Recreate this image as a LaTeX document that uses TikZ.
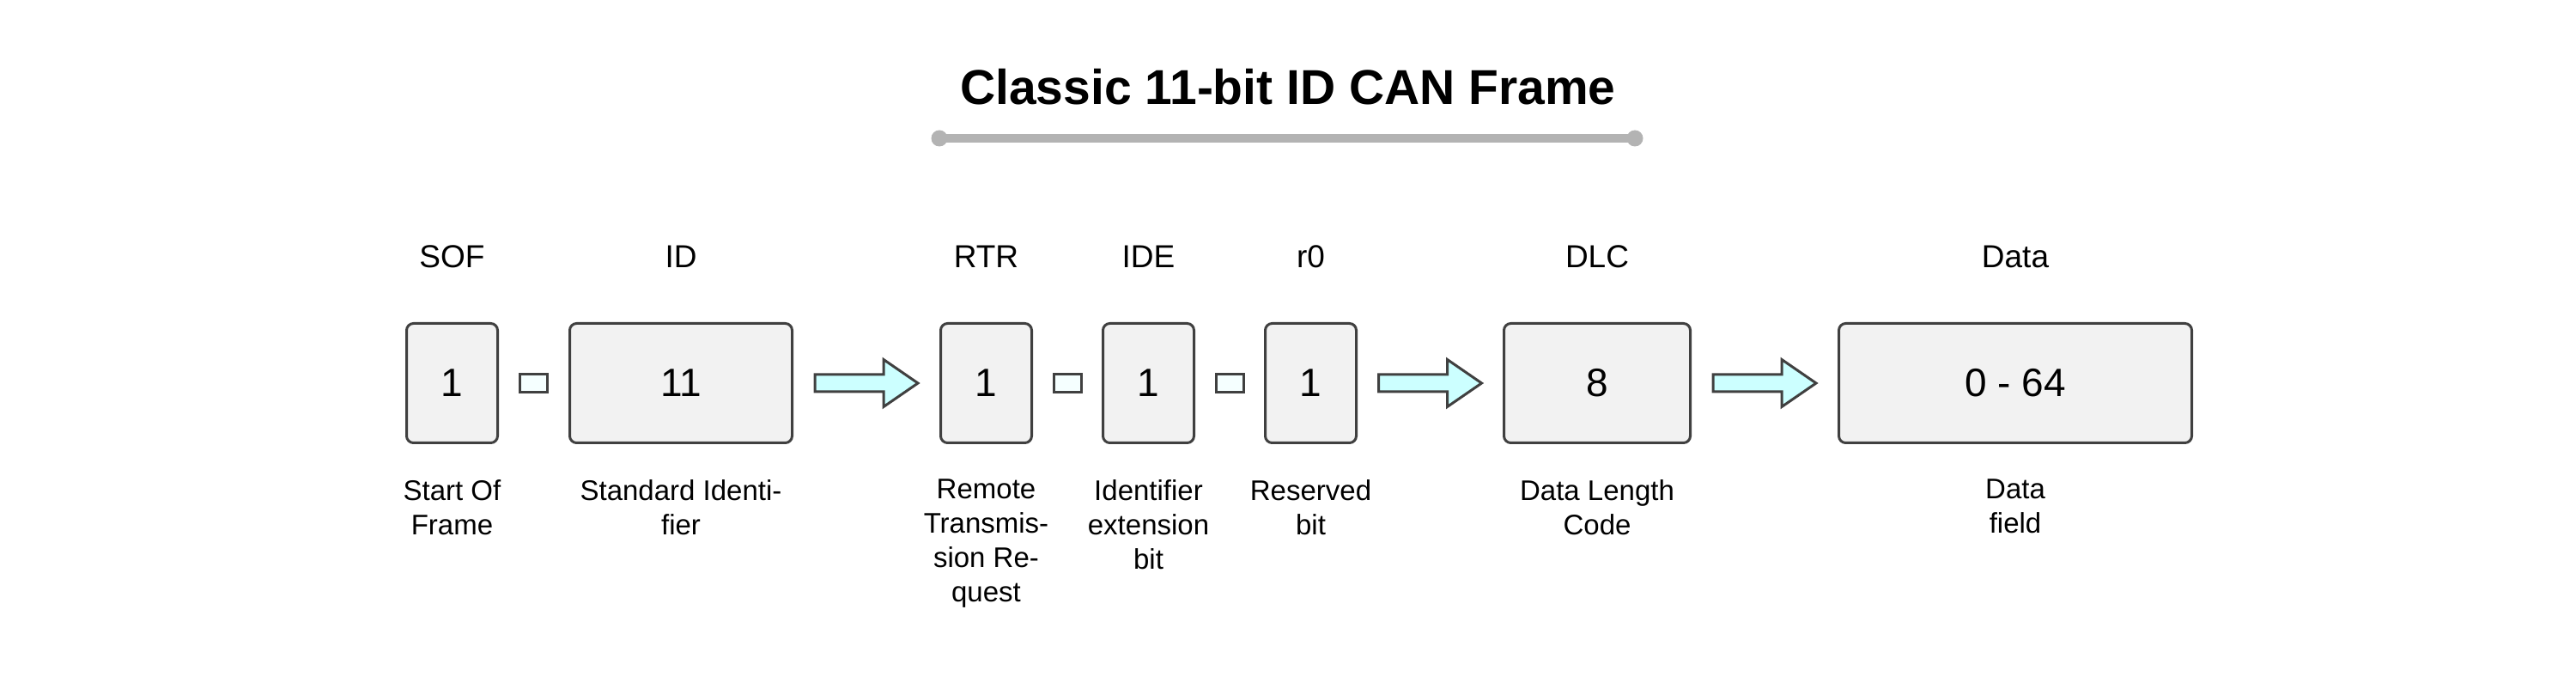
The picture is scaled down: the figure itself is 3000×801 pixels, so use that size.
\documentclass[tikz,border=0pt]{standalone}
\usepackage{fontspec}
\setmainfont{Liberation Sans}
\usetikzlibrary{calc}
\definecolor{edge}{HTML}{404040}
\definecolor{boxfill}{HTML}{F2F2F2}
\definecolor{sqfill}{HTML}{F5FFFF}
\definecolor{arrfill}{HTML}{CCFFFF}
\definecolor{rulegray}{HTML}{B3B3B3}
\newcommand{\flowarrow}[2]{%
  \coordinate (#1-#2-mid) at ($(#1.east)!0.5!(#2.west)$);
  \draw[flow] ($(#1-#2-mid)+(-60,-10)$) -- ($(#1-#2-mid)+(20,-10)$)
    -- ($(#1-#2-mid)+(20,-27.5)$) -- ($(#1-#2-mid)+(60,0)$)
    -- ($(#1-#2-mid)+(20,27.5)$) -- ($(#1-#2-mid)+(20,10)$)
    -- ($(#1-#2-mid)+(-60,10)$) -- cycle;}
\begin{document}
\begin{tikzpicture}[x=1pt,y=1pt,
  field/.style={draw=edge, line width=3pt, fill=boxfill, rounded corners=8pt,
    minimum height=139pt, inner sep=0pt, font=\fontsize{46}{55}\selectfont},
  joint/.style={draw=edge, line width=3pt, fill=sqfill, minimum width=32pt,
    minimum height=21pt, inner sep=0pt},
  flow/.style={draw=edge, line width=3pt, fill=arrfill, line join=miter},
  header/.style={anchor=base, inner sep=0pt, font=\fontsize{37}{44}\selectfont},
  caption/.style={anchor=north, inner sep=0pt, align=center,
    font=\fontsize{33}{40}\selectfont},
  titlestyle/.style={anchor=base, inner sep=0pt, font=\fontsize{57}{68}\selectfont\bfseries},
]
\useasboundingbox (0,0) rectangle (3000,801);
% title
\node[titlestyle] (title) at (1500,679) {Classic 11-bit ID CAN Frame};
\coordinate (ruleL) at (1094,640);
\coordinate (ruleR) at (1904,640);
\draw[rulegray, line width=10pt] (ruleL) -- (ruleR);
\fill[rulegray] (ruleL) circle (9.5);
\fill[rulegray] (ruleR) circle (9.5);
% fields
\node[field, minimum width=106pt] (sof) at (526.5,355) {1};
\node[field, minimum width=259pt] (id) at (793,355) {11};
\node[field, minimum width=106pt] (rtr) at (1148.5,355) {1};
\node[field, minimum width=106pt] (ide) at (1337.5,355) {1};
\node[field, minimum width=106pt] (rzero) at (1526.5,355) {1};
\node[field, minimum width=217pt] (dlc) at (1860,355) {8};
\node[field, minimum width=411pt] (data) at (2347,355) {0 - 64};
% joints
\node[joint] (j1) at ($(sof.east)!0.5!(id.west)$) {};
\node[joint] (j2) at ($(rtr.east)!0.5!(ide.west)$) {};
\node[joint] (j3) at ($(ide.east)!0.5!(rzero.west)$) {};
% arrows
\flowarrow{id}{rtr}
\flowarrow{rzero}{dlc}
\flowarrow{dlc}{data}
% headers
\node[header] (hsof) at ([yshift=63pt]sof.north) {SOF};
\node[header] (hid) at ([yshift=63pt]id.north) {ID};
\node[header] (hrtr) at ([yshift=63pt]rtr.north) {RTR};
\node[header] (hide) at ([yshift=63pt]ide.north) {IDE};
\node[header] (hrzero) at ([yshift=63pt]rzero.north) {r0};
\node[header] (hdlc) at ([yshift=63pt]dlc.north) {DLC};
\node[header] (hdata) at ([yshift=63pt]data.north) {Data};
% captions
\node[caption] (csof) at ([yshift=-41pt]sof.south) {Start Of\\Frame};
\node[caption] (cid) at ([yshift=-41pt]id.south) {Standard Identi-\\fier};
\node[caption] (crtr) at ([yshift=-41pt]rtr.south) {Remote\\Transmis-\\sion Re-\\quest};
\node[caption] (cide) at ([yshift=-41pt]ide.south) {Identifier\\extension\\bit};
\node[caption] (crzero) at ([yshift=-41pt]rzero.south) {Reserved\\bit};
\node[caption] (cdlc) at ([yshift=-41pt]dlc.south) {Data Length\\Code};
\node[caption] (cdata) at ([yshift=-41pt]data.south) {Data\\field};
\end{tikzpicture}
\end{document}
